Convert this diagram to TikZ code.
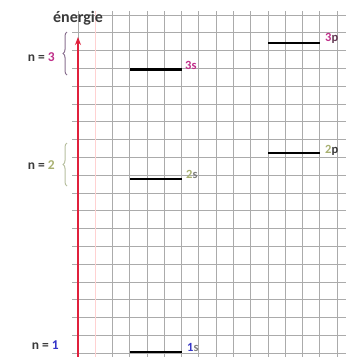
\documentclass[tikz,border=0pt]{standalone}
\usepackage{fontspec}
\setmainfont{Carlito}
\usetikzlibrary{arrows.meta,decorations.pathreplacing}
\definecolor{gridc}{HTML}{ABABAB}
\definecolor{axisred}{HTML}{E0203C}
\definecolor{magn}{HTML}{C0308A}
\definecolor{khaki}{HTML}{A8B070}
\definecolor{blueone}{HTML}{3434C8}
\definecolor{darkt}{HTML}{3A3A3A}
\definecolor{bracethree}{HTML}{8A7090}
\definecolor{bracetwo}{HTML}{B8C0A0}
\tikzset{
  gridline/.style={draw=gridc, line width=0.8pt},
  level/.style={draw=black, line width=2.4pt},
  lvllabel/.style={anchor=west, inner sep=0pt, font=\bfseries\fontsize{12.5}{13}\selectfont},
  nlabel/.style={anchor=east, inner sep=0pt, text=darkt, font=\bfseries\fontsize{13.5}{14}\selectfont},
  shellbrace/.style={decorate, decoration={brace, amplitude=4pt}, line width=1pt}
}
\begin{document}
\begin{tikzpicture}[x=1pt,y=-1pt]
\useasboundingbox (0,0) rectangle (346,357);
\fill[white] (0,0) rectangle (346,357);
% grid
\foreach \i in {0,...,15} \draw[gridline] ({78+17.27*\i},11) -- ({78+17.27*\i},357);
\foreach \j in {0,...,19} \draw[gridline] (72,{15+17.8*\j}) -- (346,{15+17.8*\j});
\draw[pink!70, line width=0.8pt] (95,11) -- (95,357);
% axis
\coordinate (axbot) at (78,357);
\coordinate (axtop) at (78,37);
\draw[axisred, line width=1.6pt, -{Stealth[length=8pt,width=6pt]}] (axbot) -- (axtop);
\node[inner sep=0pt, text=darkt, font=\bfseries\fontsize{16}{17}\selectfont] (energie) at (78,18) {énergie};
% levels
\coordinate (s3a) at (130,69.3);  \coordinate (s3b) at (182,69.3);
\coordinate (s2a) at (130,179);   \coordinate (s2b) at (182,179);
\coordinate (s1a) at (130,352);   \coordinate (s1b) at (182,352);
\coordinate (p3a) at (268,42.7);  \coordinate (p3b) at (320,42.7);
\coordinate (p2a) at (268,153);   \coordinate (p2b) at (320,153);
\draw[level] (s3a) -- (s3b);
\draw[level] (s2a) -- (s2b);
\draw[level] (s1a) -- (s1b);
\draw[level] (p3a) -- (p3b);
\draw[level] (p2a) -- (p2b);
\node[lvllabel] (l3s) at (185,65) {\textcolor{magn}{3s}};
\node[lvllabel] (l2s) at (186,174) {\textcolor{khaki}{2}\textcolor{gray}{s}};
\node[lvllabel] (l1s) at (187,347) {\textcolor{blueone}{1}\textcolor{gray}{s}};
\node[lvllabel] (l3p) at (325,38) {\textcolor{magn}{3}\textcolor{darkt!70!magn}{p}};
\node[lvllabel] (l2p) at (325,150) {\textcolor{khaki}{2}\textcolor{darkt}{p}};
% shells
\node[nlabel] (n3) at (55,57) {n\hspace{3pt}=\hspace{3pt}\textcolor{magn}{3}};
\node[nlabel] (n2) at (55,165) {n\hspace{3pt}=\hspace{3pt}\textcolor{khaki}{2}};
\node[nlabel] (n1) at (59,345) {n\hspace{3pt}=\hspace{3pt}\textcolor{blueone}{1}};
\coordinate (b3bot) at (67,75); \coordinate (b3top) at (67,32);
\coordinate (b2bot) at (67,186); \coordinate (b2top) at (67,143);
\draw[shellbrace, bracethree] (b3bot) -- (b3top);
\draw[shellbrace, bracetwo] (b2bot) -- (b2top);
\end{tikzpicture}
\end{document}
